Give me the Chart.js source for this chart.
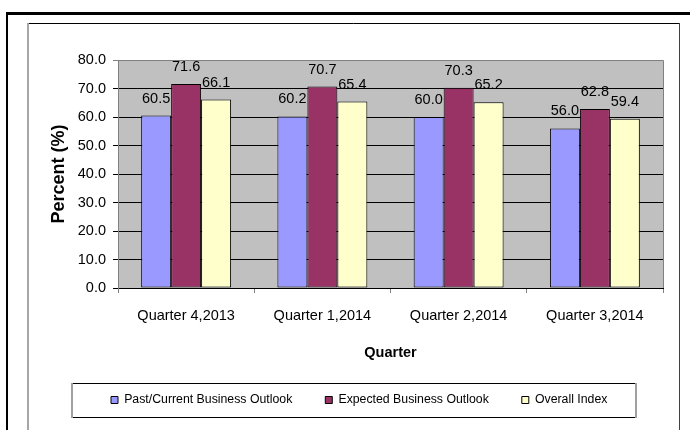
<!DOCTYPE html>
<html><head><meta charset="utf-8">
<script src="https://cdn.jsdelivr.net/npm/chart.js@4.4.1/dist/chart.umd.min.js"></script>
<style>html,body{margin:0;padding:0;background:#fff;overflow:hidden}#wrap{width:690px;height:430px;position:relative}</style>
</head><body><div id="wrap"><canvas id="c" width="690" height="430"></canvas></div>
<script>
const categories = ['Quarter 4,2013', 'Quarter 1,2014', 'Quarter 2,2014', 'Quarter 3,2014'];
const seriesNames = ['Past/Current Business Outlook', 'Expected Business Outlook', 'Overall Index'];
const pastCurrent = [60.5, 60.2, 60.0, 56.0];
const expected = [71.6, 70.7, 70.3, 62.8];
const overall = [66.1, 65.4, 65.2, 59.4];
const yTickValues = [0, 10, 20, 30, 40, 50, 60, 70, 80];
const seriesColors = ['#9999FF', '#993366', '#FFFFCC'];

const FONT = "'Liberation Sans', Arial, sans-serif";

const framePlugin = {
  id: 'frames',
  beforeDraw(chart) {
    const ctx = chart.ctx, a = chart.chartArea;
    ctx.save();
    ctx.fillStyle = '#fff';
    ctx.fillRect(0, 0, chart.width, chart.height);
    ctx.fillStyle = '#C0C0C0';
    ctx.fillRect(a.left, a.top, a.right - a.left, a.bottom - a.top);
    ctx.restore();
    const lg = chart.legend;
    if (lg && lg.legendHitBoxes && lg.legendHitBoxes.length) {
      const hb = lg.legendHitBoxes[0];
      const dx = 111 - hb.left;
      const dy = 400 - (hb.top + hb.height / 2);
      if (Math.abs(dx) > 0.01 || Math.abs(dy) > 0.01) {
        lg.left += dx; lg.right += dx; lg.top += dy; lg.bottom += dy;
        lg.adjustHitBoxes();
      }
    }
  },
  afterDraw(chart) {
    const ctx = chart.ctx, a = chart.chartArea;
    ctx.save();
    ctx.strokeStyle = '#808080'; ctx.lineWidth = 1;
    ctx.beginPath();
    ctx.moveTo(a.left, a.top + 0.5); ctx.lineTo(a.right + 0.5, a.top + 0.5);
    ctx.lineTo(a.right + 0.5, a.bottom);
    ctx.stroke();
    ctx.strokeStyle = '#000';
    ctx.lineWidth = 3;
    ctx.beginPath(); ctx.moveTo(6, 13.5); ctx.lineTo(690, 13.5); ctx.stroke();
    ctx.lineWidth = 2;
    ctx.beginPath(); ctx.moveTo(7, 12); ctx.lineTo(7, 430); ctx.stroke();
    ctx.lineWidth = 1;
    ctx.strokeStyle = '#000';
    ctx.beginPath(); ctx.moveTo(28, 23.5); ctx.lineTo(679.5, 23.5); ctx.stroke();
    ctx.strokeStyle = '#A6A6A6'; ctx.lineWidth = 2;
    ctx.beginPath(); ctx.moveTo(28, 23); ctx.lineTo(28, 430); ctx.stroke();
    ctx.strokeStyle = '#404040'; ctx.lineWidth = 1;
    ctx.beginPath(); ctx.moveTo(679.5, 23); ctx.lineTo(679.5, 430); ctx.stroke();
    ctx.strokeStyle = '#000'; ctx.lineWidth = 1;
    ctx.beginPath(); ctx.moveTo(72, 383.5); ctx.lineTo(636, 383.5); ctx.stroke();
    ctx.beginPath(); ctx.moveTo(72, 417.5); ctx.lineTo(636, 417.5); ctx.stroke();
    ctx.strokeStyle = '#A0A0A0'; ctx.lineWidth = 2;
    ctx.beginPath(); ctx.moveTo(72, 383); ctx.lineTo(72, 418); ctx.stroke();
    ctx.beginPath(); ctx.moveTo(636, 383); ctx.lineTo(636, 418); ctx.stroke();
    ctx.restore();
  }
};

const labelPlugin = {
  id: 'valueLabels',
  afterDatasetsDraw(chart) {
    const ctx = chart.ctx;
    ctx.save();
    ctx.font = '14.5px ' + FONT;
    ctx.fillStyle = '#000';
    ctx.textAlign = 'center';
    ctx.textBaseline = 'alphabetic';
    chart.data.datasets.forEach((ds, i) => {
      const meta = chart.getDatasetMeta(i);
      meta.data.forEach((bar, j) => {
        ctx.fillText(ds.data[j].toFixed(1), bar.x, bar.y - 13);
      });
    });
    ctx.restore();
  }
};

const seriesData = [pastCurrent, expected, overall];

new Chart(document.getElementById('c'), {
  type: 'bar',
  data: {
    labels: categories,
    datasets: seriesNames.map((name, i) => ({
      label: name,
      data: seriesData[i],
      backgroundColor: seriesColors[i],
      borderColor: '#000',
      borderWidth: 1,
      borderSkipped: false,
      categoryPercentage: 0.66,
      barPercentage: 1.0
    }))
  },
  options: {
    responsive: false,
    animation: false,
    devicePixelRatio: 1,
    layout: { padding: { top: 60, right: 27, left: 0, bottom: 0 } },
    plugins: {
      tooltip: { enabled: false },
      legend: {
        position: 'bottom',
        labels: {
          boxWidth: 7, boxHeight: 7, padding: 33,
          color: '#000',
          font: { family: FONT, size: 12.3 }
        }
      }
    },
    scales: {
      x: {
        afterFit(scale) { const lg = scale.chart.legend; scale.height = 430 - 288 - (lg ? lg.height : 57); },
        grid: { drawOnChartArea: false, drawTicks: true, tickLength: 5, color: '#808080', offset: true },
        border: { color: '#000', width: 1 },
        ticks: { color: '#000', font: { family: FONT, size: 14.5 }, padding: 14, maxRotation: 0 },
        title: { display: true, text: 'Quarter', color: '#000', font: { family: FONT, size: 14.5, weight: 'bold' }, padding: { top: 0, bottom: 13 } }
      },
      y: {
        min: 0, max: 80,
        afterFit(scale) { scale.width = 118; },
        afterBuildTicks(scale) { scale.ticks = yTickValues.map(v => ({ value: v })); },
        grid: {
          color: ctx => (ctx.tick && ctx.tick.value === 80 ? '#808080' : '#000'),
          tickLength: 5, lineWidth: 1
        },
        border: { color: '#808080', width: 1 },
        ticks: { color: '#000', font: { family: FONT, size: 14.5 }, padding: 7, callback: v => Number(v).toFixed(1) },
        title: { display: true, text: 'Percent (%)', color: '#000', font: { family: FONT, size: 18, weight: 'bold' }, padding: { top: 48, bottom: 0 } }
      }
    }
  },
  plugins: [framePlugin, labelPlugin]
});
</script>
</body></html>
